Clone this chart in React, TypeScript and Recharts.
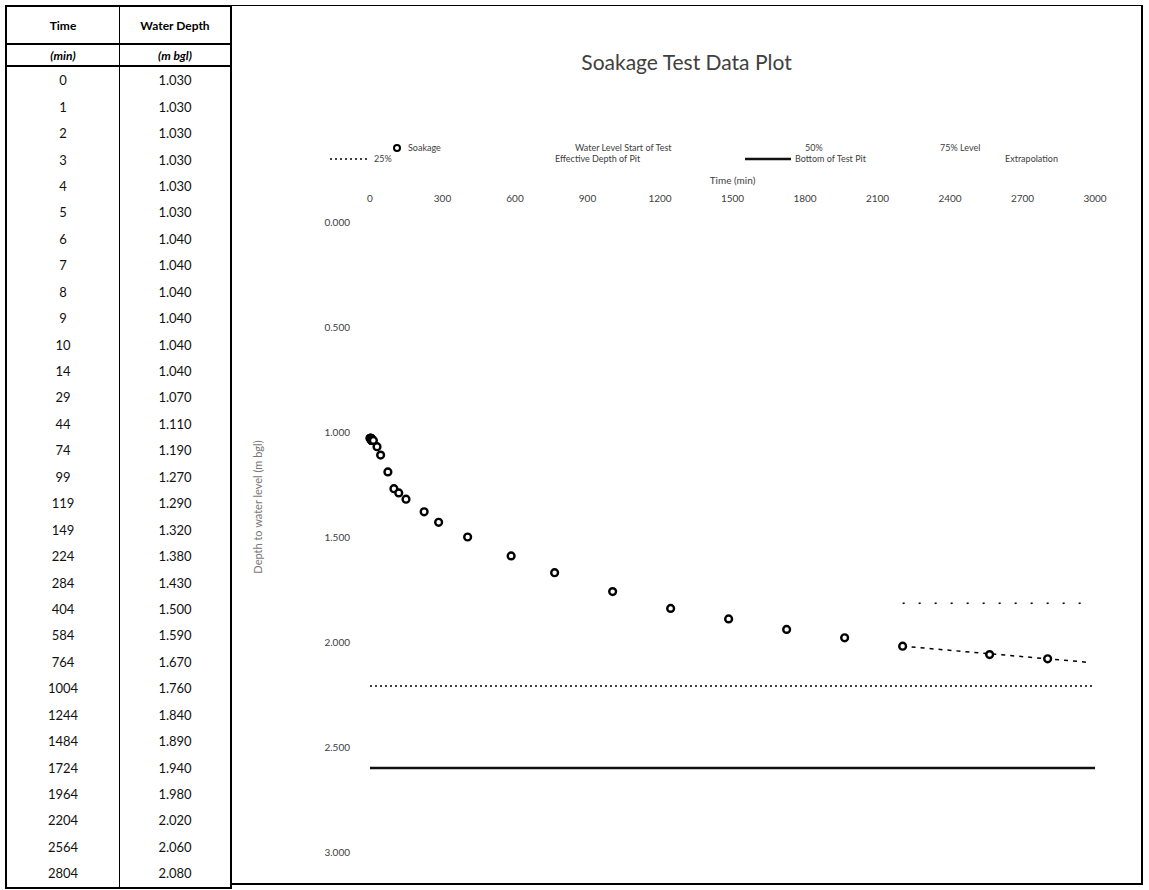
import React from "react";
import {
  ComposedChart,
  Scatter,
  Line,
  XAxis,
  YAxis,
} from "recharts";

// soakage readings, as listed in the table
const timeMin = [0, 1, 2, 3, 4, 5, 6, 7, 8, 9, 10, 14, 29, 44, 74, 99, 119, 149, 224, 284, 404, 584, 764, 1004, 1244, 1484, 1724, 1964, 2204, 2564, 2804];
const waterDepth = [1.03, 1.03, 1.03, 1.03, 1.03, 1.03, 1.04, 1.04, 1.04, 1.04, 1.04, 1.04, 1.07, 1.11, 1.19, 1.27, 1.29, 1.32, 1.38, 1.43, 1.5, 1.59, 1.67, 1.76, 1.84, 1.89, 1.94, 1.98, 2.02, 2.06, 2.08];

// reference levels
const baseTime = [0, 3000];
const baseDepth = [2.6, 2.6];
const level25Time = [0, 3000];
const level25Depth = [2.21, 2.21];
const level50Time = [2204, 2960];
const level50Depth = [1.815, 1.815];
const extrapTime = [2204, 2964];
const extrapDepth = [2.02, 2.096];

const xTicks = [0, 300, 600, 900, 1200, 1500, 1800, 2100, 2400, 2700, 3000];
const yTicks = [0, 0.5, 1, 1.5, 2, 2.5, 3];

const toPoints = (t: number[], d: number[]) => t.map((time, i) => ({ time, depth: d[i] }));

const soakData = toPoints(timeMin, waterDepth);
const baseData = toPoints(baseTime, baseDepth);
const level25Data = toPoints(level25Time, level25Depth);
const level50Data = toPoints(level50Time, level50Depth);
const extrapData = toPoints(extrapTime, extrapDepth);

const FONT = "Lato, 'Open Sans', sans-serif";
const TEXT = "#404040";

const OpenDot = (props: { cx?: number; cy?: number }) => {
  if (props.cx == null || props.cy == null) return null;
  return <circle cx={props.cx} cy={props.cy} r={3.4} fill="#fff" stroke="#000" strokeWidth={2.4} />;
};

function DataTable() {
  const cell: React.CSSProperties = { textAlign: "center", fontSize: 13, color: "#111", height: 26.45, padding: 0 };
  return (
    <table
      style={{
        position: "absolute",
        left: 5,
        top: 5,
        width: 227,
        height: 880,
        borderCollapse: "collapse",
        border: "2px solid #000",
        fontFamily: FONT,
        boxSizing: "border-box",
      }}
    >
      <thead>
        <tr style={{ height: 38, borderBottom: "2px solid #000" }}>
          <th style={{ fontSize: 12, fontWeight: 700, borderRight: "1.5px solid #000", width: 110 }}>Time</th>
          <th style={{ fontSize: 12, fontWeight: 700 }}>Water Depth</th>
        </tr>
        <tr style={{ height: 22, borderBottom: "2px solid #000" }}>
          <th style={{ fontSize: 12, fontWeight: 700, fontStyle: "italic", borderRight: "1.5px solid #000" }}>(min)</th>
          <th style={{ fontSize: 12, fontWeight: 700, fontStyle: "italic" }}>(m bgl)</th>
        </tr>
      </thead>
      <tbody>
        {timeMin.map((t, i) => (
          <tr key={t}>
            <td style={{ ...cell, borderRight: "1.5px solid #000" }}>{t}</td>
            <td style={cell}>{waterDepth[i].toFixed(3)}</td>
          </tr>
        ))}
      </tbody>
    </table>
  );
}

function LegendBlock() {
  const txt: React.CSSProperties = { position: "absolute", fontSize: 9, color: TEXT, whiteSpace: "nowrap", lineHeight: "11px" };
  return (
    <div style={{ position: "absolute", left: 0, top: 136, width: 909, height: 26, fontFamily: FONT }}>
      {/* row 1 */}
      <svg style={{ position: "absolute", left: 160, top: 1 }} width={10} height={10}>
        <circle cx={5} cy={5} r={3} fill="#fff" stroke="#000" strokeWidth={2} />
      </svg>
      <span style={{ ...txt, left: 176, top: 0 }}>Soakage</span>
      <span style={{ ...txt, left: 343, top: 0 }}>Water Level Start of Test</span>
      <span style={{ ...txt, left: 573, top: 0 }}>50%</span>
      <span style={{ ...txt, left: 708, top: 0 }}>75% Level</span>
      {/* row 2 */}
      <svg style={{ position: "absolute", left: 98, top: 12 }} width={40} height={10}>
        <line x1={0} y1={5} x2={40} y2={5} stroke="#000" strokeWidth={1.5} strokeDasharray="2 3" />
      </svg>
      <span style={{ ...txt, left: 142, top: 11 }}>25%</span>
      <span style={{ ...txt, left: 323, top: 11 }}>Effective Depth of Pit</span>
      <svg style={{ position: "absolute", left: 513, top: 12 }} width={46} height={10}>
        <line x1={0} y1={5} x2={46} y2={5} stroke="#111" strokeWidth={2.5} />
      </svg>
      <span style={{ ...txt, left: 563, top: 11 }}>Bottom of Test Pit</span>
      <span style={{ ...txt, left: 773, top: 11 }}>Extrapolation</span>
    </div>
  );
}

export default function App() {
  return (
    <div style={{ position: "absolute", left: 0, top: 0, width: 1149, height: 890, background: "#fff", overflow: "hidden" }}>
      <DataTable />
      <div
        style={{
          position: "absolute",
          left: 232,
          top: 5,
          width: 911,
          height: 880,
          boxSizing: "border-box",
          borderTop: "1px solid #000",
          borderRight: "2px solid #000",
          borderBottom: "2px solid #000",
        }}
      >
        <div
          style={{
            position: "absolute",
            left: 0,
            top: 43,
            width: 909,
            textAlign: "center",
            fontFamily: FONT,
            fontSize: 21,
            color: TEXT,
          }}
        >
          Soakage Test Data Plot
        </div>
        <LegendBlock />
        <ComposedChart width={909} height={877} margin={{ top: 186, right: 46, bottom: 31, left: 10 }}>
          <XAxis
            type="number"
            dataKey="time"
            orientation="top"
            domain={[0, 3000]}
            ticks={xTicks}
            height={30}
            axisLine={false}
            tickLine={false}
            tickMargin={14}
            tick={{ fontSize: 10, fill: TEXT, fontFamily: FONT }}
            label={{ value: "Time (min)", position: "top", offset: 8, fontSize: 10, fill: TEXT, fontFamily: FONT }}
          />
          <YAxis
            type="number"
            dataKey="depth"
            reversed
            domain={[0, 3]}
            ticks={yTicks}
            width={128}
            axisLine={false}
            tickLine={false}
            tickMargin={14}
            tickFormatter={(v: number) => v.toFixed(3)}
            tick={{ fontSize: 10, fill: TEXT, fontFamily: FONT }}
            label={{
              value: "Depth to water level (m bgl)",
              angle: -90,
              position: "insideLeft",
              offset: 16,
              dy: -30,
              style: { textAnchor: "middle" },
              fontSize: 11,
              fill: "#777",
              fontFamily: FONT,
            }}
          />
          <Line data={level25Data} dataKey="depth" stroke="#000" strokeWidth={1.5} strokeDasharray="2 3" dot={false} isAnimationActive={false} />
          <Line data={baseData} dataKey="depth" stroke="#111" strokeWidth={2.5} dot={false} isAnimationActive={false} />
          <Line data={level50Data} dataKey="depth" stroke="#000" strokeWidth={1.5} strokeDasharray="2 14" dot={false} isAnimationActive={false} />
          <Line data={extrapData} dataKey="depth" stroke="#000" strokeWidth={1.5} strokeDasharray="4 5" dot={false} isAnimationActive={false} />
          <Scatter data={soakData} dataKey="depth" shape={<OpenDot />} isAnimationActive={false} />
        </ComposedChart>
      </div>
    </div>
  );
}
